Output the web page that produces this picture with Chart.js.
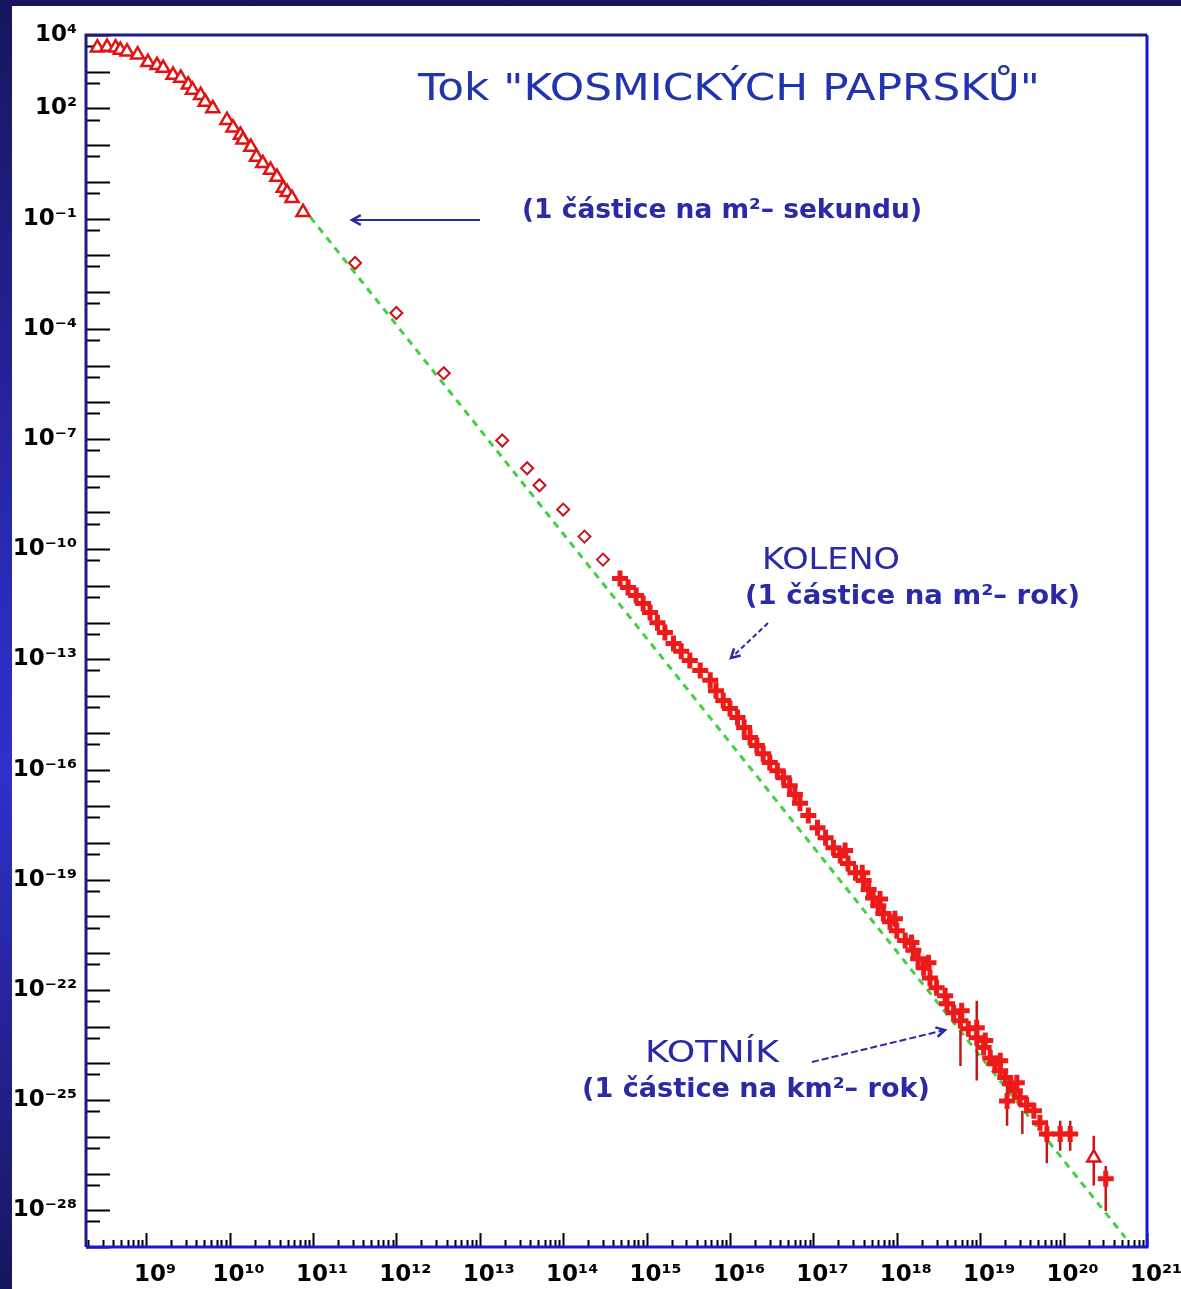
<!DOCTYPE html>
<html>
<head>
<meta charset="utf-8">
<script src="https://cdn.jsdelivr.net/npm/chart.js@4.4.1/dist/chart.umd.min.js"></script>
<style>
  html, body { margin: 0; padding: 0; }
  body {
    width: 1181px; height: 1289px; overflow: hidden; position: relative;
    background: linear-gradient(to bottom, #16165e 0%, #2a2ab8 45%, #3030cc 60%, #16165e 100%);
  }
  #panel { position: absolute; left: 12px; top: 6px; width: 1169px; height: 1283px; background: #fff; }
  canvas { display: block; }
</style>
</head>
<body>
<div id="panel"><canvas id="chart" width="1169" height="1283"></canvas></div>
<script>
// low energy points (open triangles)
const triEnergy = [2.6e8, 3.4e8, 4.3e8, 4.9e8, 5.9e8, 7.9e8, 1.05e9, 1.35e9, 1.6e9, 2.1e9, 2.6e9, 3.2e9, 3.6e9, 4.5e9,
  5.1e9, 6.3e9, 9.3e9, 1.1e10, 1.35e10, 1.45e10, 1.8e10, 2.1e10, 2.5e10, 3.1e10, 3.7e10, 4.4e10, 4.9e10, 5.6e10, 7.6e10, 2.3e20];
const triFlux = [4.5e3, 4.7e3, 4.5e3, 3.9e3, 3.5e3, 2.9e3, 1.8e3, 1.5e3, 1.26e3, 8.1e2, 6.8e2, 4.4e2, 3.2e2, 2.3e2,
  1.5e2, 1.0e2, 48, 30, 19, 14, 8.9, 4.8, 3.2, 2.1, 1.35, 0.68, 0.52, 0.36, 0.15, 2.7e-27];

// balloon / satellite points (open diamonds)
const diaEnergy = [3.2e11, 1.0e12, 3.7e12, 1.86e13, 3.7e13, 5.2e13, 1.0e14, 1.8e14, 3.0e14];
const diaFlux = [6.2e-3, 2.7e-4, 6.2e-6, 9.1e-8, 1.6e-8, 5.5e-9, 1.2e-9, 2.2e-10, 5.2e-11];

// air shower points (crosses)
const crossEnergy = [4.8e14, 6.0e14, 7.5e14, 9.1e14, 1.1e15, 1.35e15, 1.66e15, 2.1e15, 2.6e15, 3.3e15, 4.4e15, 5.8e15,
  6.8e15, 8.3e15, 1.0e16, 1.23e16, 1.48e16, 1.74e16, 2.1e16, 2.5e16, 3.0e16, 3.7e16, 4.4e16, 5.2e16, 6.0e16, 6.9e16,
  8.7e16, 1.12e17, 1.4e17, 1.74e17, 2.1e17, 2.6e17, 3.2e17, 4.0e17, 4.6e17, 5.2e17, 6.0e17, 6.9e17, 8.3e17, 1.0e18,
  1.26e18, 1.58e18, 1.8e18, 2.1e18, 2.5e18, 3.0e18, 4.0e18, 4.8e18, 5.8e18, 7.2e18, 9.1e18, 1.1e19, 1.32e19, 1.5e19,
  1.74e19, 2.0e19, 2.3e19, 2.6e19, 3.0e19, 3.6e19, 4.4e19, 5.2e19, 6.3e19, 9.1e19, 1.2e20, 3.2e20,
  2.4e17, 3.85e17, 6.3e17, 9.5e17, 1.5e18, 2.4e18, 3.8e18, 6.0e18, 1.15e19, 1.74e19, 2.75e19, 9.1e18, 2.1e19];
const crossFlux = [1.6e-11, 9.1e-12, 5.5e-12, 3.3e-12, 1.9e-12, 1.0e-12, 5.4e-13, 2.7e-13, 1.66e-13, 9.3e-14, 5.0e-14, 2.7e-14,
  1.4e-14, 7.6e-15, 4.6e-15, 2.6e-15, 1.4e-15, 7.4e-16, 4.5e-16, 2.7e-16, 1.55e-16, 9.3e-17, 6.0e-17, 3.6e-17, 2.1e-17, 1.2e-17,
  5.6e-18, 2.6e-18, 1.4e-18, 7.4e-19, 4.6e-19, 2.75e-19, 1.55e-19, 9.5e-20, 5.4e-20, 3.2e-20, 1.95e-20, 1.2e-20, 7.2e-21, 4.1e-21,
  2.2e-21, 1.2e-21, 7.1e-22, 4.0e-22, 2.1e-22, 1.15e-22, 4.2e-23, 2.4e-23, 1.45e-23, 8.7e-24, 5.0e-24, 2.7e-24, 1.4e-24, 9.8e-25,
  6.3e-25, 4.1e-25, 2.8e-25, 1.8e-25, 1.15e-25, 7.4e-26, 5.1e-26, 2.4e-26, 1.2e-26, 1.2e-26, 1.2e-26, 7.2e-28,
  6.2e-19, 1.55e-19, 3.0e-20, 8.7e-21, 1.95e-21, 5.5e-22, 6.9e-23, 2.7e-23, 4.2e-24, 1.17e-24, 2.95e-25, 9.3e-24, 9.5e-26];

// vertical error bars at the high energy end
const barEnergy = [5.8e18, 9.1e18, 2.1e19, 3.2e19, 6.3e19, 9.1e19, 1.2e20, 2.3e20, 3.2e20];
const barLow = [8.5e-25, 3.4e-25, 2.0e-26, 1.2e-26, 1.9e-27, 4.2e-27, 4.2e-27, 4.7e-28, 9.5e-29];
const barHigh = [7.8e-24, 5.1e-23, 2.5e-25, 5.1e-26, 2.75e-26, 2.75e-26, 2.75e-26, 1.07e-26, 1.6e-27];

// green dashed power law
const fitEnergy = [9.3e10, 5.5e20];
const fitFlux = [0.11, 1.8e-29];

const xLabelExps = [9, 10, 11, 12, 13, 14, 15, 16, 17, 18, 19, 20, 21];
const yLabelExps = [4, 2, -1, -4, -7, -10, -13, -16, -19, -22, -25, -28];

const SUP = { "0": "\u2070", "1": "\u00B9", "2": "\u00B2", "3": "\u00B3", "4": "\u2074", "5": "\u2075",
  "6": "\u2076", "7": "\u2077", "8": "\u2078", "9": "\u2079", "-": "\u207B" };

function powerLabel(value, exps) {
    const e = Math.log10(value);
    const r = Math.round(e);
    if (Math.abs(e - r) > 1e-6 || !exps.includes(r)) return "";
    return "10" + String(r).split("").map((c) => SUP[c]).join("");
}

function pairs(xs, ys) {
    return xs.map((x, i) => ({ x: x, y: ys[i] }));
}

const errorBars = [];
barEnergy.forEach((e, i) => {
    errorBars.push({ x: e, y: barLow[i] }, { x: e, y: barHigh[i] }, { x: e, y: null });
});

// page offset of the canvas, annotation coordinates are page pixels
const OFF_X = 12, OFF_Y = 6;
const BLUE = "#2a2aa6";

function fitText(ctx, text, x, y, width, font) {
    ctx.font = font;
    const w = ctx.measureText(text).width;
    ctx.save();
    ctx.translate(x - OFF_X, y - OFF_Y);
    ctx.scale(width / w, 1);
    ctx.fillText(text, 0, 0);
    ctx.restore();
}

function arrow(ctx, x1, y1, x2, y2, dash) {
    ctx.save();
    ctx.translate(-OFF_X, -OFF_Y);
    ctx.strokeStyle = BLUE;
    ctx.lineWidth = 2;
    ctx.setLineDash(dash);
    ctx.beginPath();
    ctx.moveTo(x1, y1);
    ctx.lineTo(x2, y2);
    ctx.stroke();
    ctx.setLineDash([]);
    const a = Math.atan2(y2 - y1, x2 - x1);
    ctx.beginPath();
    ctx.moveTo(x2 - 10 * Math.cos(a - 0.5), y2 - 10 * Math.sin(a - 0.5));
    ctx.lineTo(x2, y2);
    ctx.lineTo(x2 - 10 * Math.cos(a + 0.5), y2 - 10 * Math.sin(a + 0.5));
    ctx.lineWidth = 2.5;
    ctx.stroke();
    ctx.restore();
}

const innerTicks = {
    id: "innerTicks",
    beforeDatasetsDraw(chart) {
        const { ctx, chartArea: a, scales: { x, y } } = chart;
        ctx.save();
        ctx.strokeStyle = "#000";
        ctx.lineWidth = 2;
        ctx.beginPath();
        y.ticks.forEach((t) => {
            const py = Math.round(y.getPixelForValue(t.value)) + 0.5;
            ctx.moveTo(a.left, py);
            ctx.lineTo(a.left + (t.major ? 24 : 14), py);
        });
        x.ticks.forEach((t) => {
            const px = Math.round(x.getPixelForValue(t.value)) + 0.5;
            ctx.moveTo(px, a.bottom);
            ctx.lineTo(px, a.bottom - (t.major ? 14 : 7));
        });
        ctx.stroke();
        ctx.restore();
    },
    afterDraw(chart) {
        const { ctx, chartArea: a } = chart;
        ctx.save();
        ctx.lineWidth = 3;
        ctx.strokeStyle = "#1c1c86";
        ctx.beginPath();
        ctx.moveTo(a.left, a.bottom);
        ctx.lineTo(a.left, a.top);
        ctx.lineTo(a.right, a.top);
        ctx.stroke();
        ctx.strokeStyle = "#1616d6";
        ctx.beginPath();
        ctx.moveTo(a.right, a.top);
        ctx.lineTo(a.right, a.bottom);
        ctx.lineTo(a.left, a.bottom);
        ctx.stroke();

        ctx.fillStyle = "#2233b0";
        ctx.textBaseline = "middle";
        ctx.textAlign = "left";
        fitText(ctx, "Tok \"KOSMICKÝCH PAPRSKŮ\"", 418, 90, 622, "37px 'DejaVu Sans'");
        ctx.fillStyle = BLUE;
        fitText(ctx, "(1 částice na m²– sekundu)", 522, 211, 400, "bold 27px 'DejaVu Sans'");
        fitText(ctx, "KOLENO", 762, 561, 138, "31px 'DejaVu Sans'");
        fitText(ctx, "(1 částice na m²– rok)", 745, 597, 335, "bold 27px 'DejaVu Sans'");
        fitText(ctx, "KOTNÍK", 645, 1054, 134, "31px 'DejaVu Sans'");
        fitText(ctx, "(1 částice na km²– rok)", 582, 1090, 348, "bold 27px 'DejaVu Sans'");

        arrow(ctx, 480, 220, 352, 220, []);
        arrow(ctx, 768, 623, 731, 658, [5, 3]);
        arrow(ctx, 812, 1062, 945, 1030, [7, 3]);
        ctx.restore();
    },
};

function xTicks(axis) {
    const ticks = [];
    for (let n = 8; n <= 21; n++) {
        for (let m = 1; m <= 9; m++) {
            const v = m * Math.pow(10, n);
            if (v < axis.min * 0.999 || v > axis.max * 1.001) continue;
            ticks.push({ value: v, major: m === 1 });
        }
    }
    axis.ticks = ticks;
}

function yTicks(axis) {
    const ticks = [];
    for (let n = -29; n <= 4; n++) {
        ticks.push({ value: Math.pow(10, n), major: true });
        if (n > -29) ticks.push({ value: 5 * Math.pow(10, n - 1), major: false });
    }
    axis.ticks = ticks;
}

const tickFont = { family: "'DejaVu Sans'", size: 23, weight: "bold" };

new Chart(document.getElementById("chart"), {
    data: {
        datasets: [
            {
                type: "line",
                data: pairs(fitEnergy, fitFlux),
                borderColor: "#44d044",
                borderWidth: 3,
                borderDash: [7, 6],
                pointRadius: 0,
                order: 5,
            },
            {
                type: "line",
                data: errorBars,
                borderColor: "#c41818",
                borderWidth: 2.5,
                pointRadius: 0,
                spanGaps: false,
                order: 4,
            },
            {
                type: "scatter",
                data: pairs(triEnergy, triFlux),
                pointStyle: "triangle",
                pointRadius: 7.5,
                borderColor: "#e01212",
                backgroundColor: "#ffffff",
                borderWidth: 2.5,
                order: 2,
            },
            {
                type: "scatter",
                data: pairs(diaEnergy, diaFlux),
                pointStyle: "rectRot",
                pointRadius: 6,
                borderColor: "#c8141e",
                backgroundColor: "#ffffff",
                borderWidth: 2,
                order: 2,
            },
            {
                type: "scatter",
                data: pairs(crossEnergy, crossFlux),
                pointStyle: "cross",
                pointRadius: 8,
                borderColor: "#ee1a1a",
                borderWidth: 5,
                order: 1,
            },
        ],
    },
    options: {
        responsive: false,
        animation: false,
        layout: { padding: { top: 29, right: 34, left: 0, bottom: 0 } },
        plugins: {
            legend: { display: false },
            tooltip: { enabled: false },
        },
        scales: {
            x: {
                type: "logarithmic",
                min: 1.9e8,
                max: 1e21,
                grid: { display: false },
                border: { display: false },
                afterBuildTicks: xTicks,
                afterFit: (axis) => { axis.height = 42; },
                ticks: {
                    autoSkip: false,
                    maxRotation: 0,
                    padding: 6,
                    labelOffset: 9,
                    color: "#000",
                    font: tickFont,
                    callback: (value) => powerLabel(value, xLabelExps),
                },
            },
            y: {
                type: "logarithmic",
                min: 1e-29,
                max: 1e4,
                grid: { display: false },
                border: { display: false },
                afterBuildTicks: yTicks,
                afterFit: (axis) => { axis.width = 74; },
                ticks: {
                    autoSkip: false,
                    padding: 1,
                    color: "#000",
                    font: tickFont,
                    callback: (value) => powerLabel(value, yLabelExps),
                },
            },
        },
    },
    plugins: [innerTicks],
});
</script>
</body>
</html>
